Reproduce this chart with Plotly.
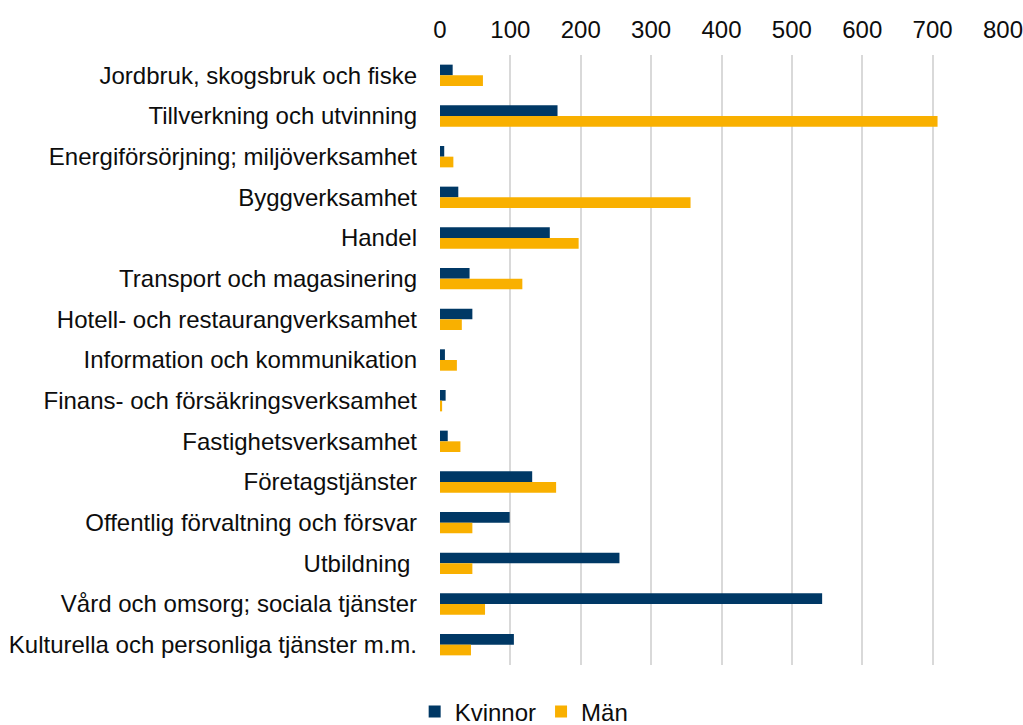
import plotly.graph_objects as go

categories = [
    "Jordbruk, skogsbruk och fiske",
    "Tillverkning och utvinning",
    "Energiförsörjning; miljöverksamhet",
    "Byggverksamhet",
    "Handel",
    "Transport och magasinering",
    "Hotell- och restaurangverksamhet",
    "Information och kommunikation",
    "Finans- och försäkringsverksamhet",
    "Fastighetsverksamhet",
    "Företagstjänster",
    "Offentlig förvaltning och försvar",
    "Utbildning ",
    "Vård och omsorg; sociala tjänster",
    "Kulturella och personliga tjänster m.m.",
]
kvinnor = [18, 167, 6, 26, 156, 42, 46, 7, 8, 11, 131, 99, 255, 543, 105]
man = [61, 707, 19, 356, 197, 117, 31, 24, 3, 29, 165, 46, 46, 64, 44]
tick_vals = [0, 100, 200, 300, 400, 500, 600, 700, 800]

fig = go.Figure()
fig.add_trace(go.Bar(y=categories, x=kvinnor, name="Kvinnor", orientation="h",
                     marker=dict(color="#003865", line=dict(width=0))))
fig.add_trace(go.Bar(y=categories, x=man, name="Män", orientation="h",
                     marker=dict(color="#F9B000", line=dict(width=0))))

fig.update_layout(
    width=1023, height=725,
    margin=dict(l=440, r=20, t=55, b=60, autoexpand=False),
    paper_bgcolor="white", plot_bgcolor="white",
    barmode="group", bargap=0.474, bargroupgap=0,
    font=dict(family="Liberation Sans, Arial, sans-serif", size=24, color="#0d0d0d"),
    xaxis=dict(side="top", range=[0, 800], tickvals=tick_vals, showgrid=True,
               gridcolor="#d9d9d9", gridwidth=1.5, zeroline=False, showline=False,
               ticks="", tickfont=dict(size=24), automargin=False, ticklabelstandoff=11,
               ticklabeloverflow="allow"),
    yaxis=dict(autorange="reversed", showgrid=False, showline=False, ticks="",
               tickfont=dict(size=24), automargin=False, ticklabelstandoff=22),
    legend=dict(orientation="h", x=-0.045, xanchor="left", y=-0.077, yanchor="middle",
                font=dict(size=24), itemwidth=30, tracegroupgap=0),
    showlegend=True,
)
fig.write_html(
    "out.html",
    config={"displayModeBar": False},
    post_script="document.body.style.margin='0';document.body.style.overflow='hidden';",
)
